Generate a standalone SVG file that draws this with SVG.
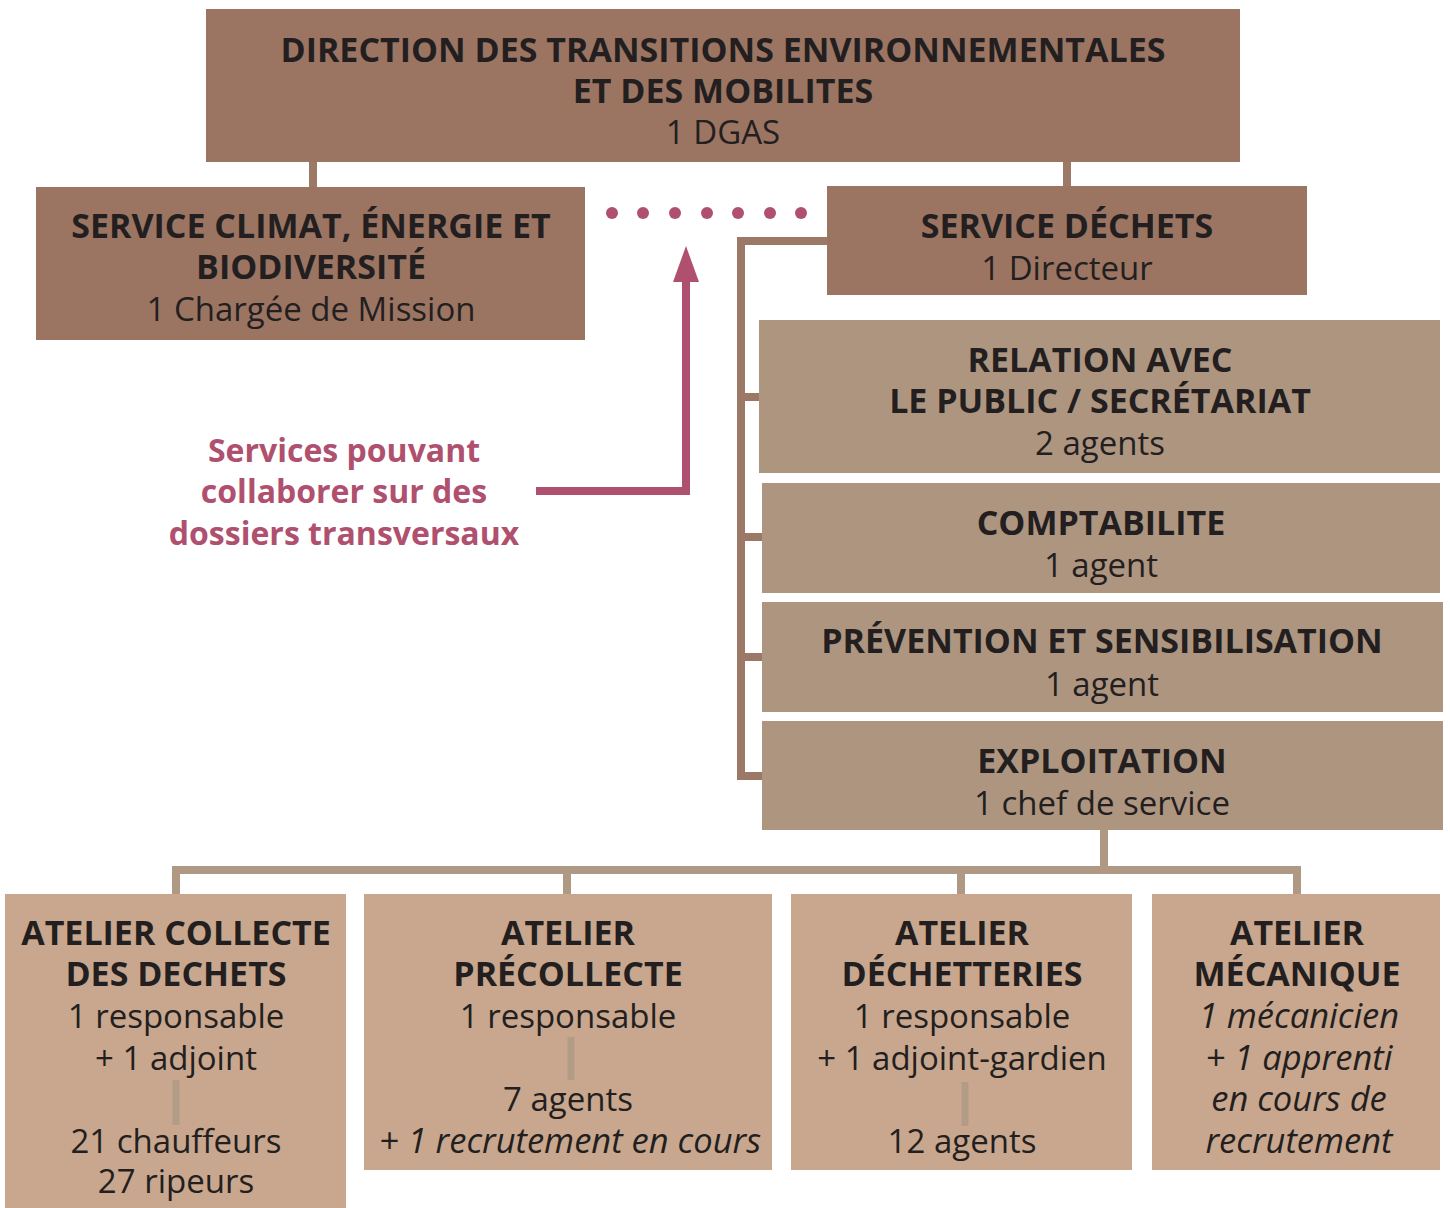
<svg xmlns="http://www.w3.org/2000/svg" width="1450" height="1208" viewBox="0 0 1450 1208">
<style>
.t{font-family:"Open Sans","Noto Sans","DejaVu Sans",sans-serif;font-size:33px;fill:#231f20;text-anchor:middle}
.b{font-weight:bold;font-size:34px}
.i{font-style:italic;font-size:34.5px}
.m{fill:#b0506f;font-weight:bold;font-size:32px}
.c1{fill:none;stroke:#9c7866;stroke-width:8}
.c2{fill:none;stroke:#b09984;stroke-width:8}
.c3{fill:none;stroke:#b39c86;stroke-width:7}
</style>
<rect width="1450" height="1208" fill="#ffffff"/>
<g id="direction">
<rect x="206" y="9" width="1034" height="153" fill="#9b7562"/>
<text class="t b" x="723" y="62">DIRECTION DES TRANSITIONS ENVIRONNEMENTALES</text>
<text class="t b" x="723" y="103">ET DES MOBILITES</text>
<text class="t" x="723" y="144">1 DGAS</text>
</g>
<g id="climat">
<rect x="36" y="187" width="549" height="153" fill="#9b7562"/>
<text class="t b" x="311" y="238">SERVICE CLIMAT, ÉNERGIE ET</text>
<text class="t b" x="311" y="279">BIODIVERSITÉ</text>
<text class="t" x="311" y="321">1 Chargée de Mission</text>
</g>
<g id="dechets">
<rect x="827" y="186" width="480" height="109" fill="#9b7562"/>
<text class="t b" x="1067" y="238">SERVICE DÉCHETS</text>
<text class="t" x="1067" y="280">1 Directeur</text>
</g>
<g id="relation">
<rect x="759" y="320" width="681" height="153" fill="#ae9580"/>
<text class="t b" x="1100" y="372">RELATION AVEC</text>
<text class="t b" x="1100" y="413">LE PUBLIC / SECRÉTARIAT</text>
<text class="t" x="1100" y="455">2 agents</text>
</g>
<g id="comptabilite">
<rect x="762" y="483" width="678" height="110" fill="#ae9580"/>
<text class="t b" x="1101" y="535">COMPTABILITE</text>
<text class="t" x="1101" y="577">1 agent</text>
</g>
<g id="prevention">
<rect x="762" y="602" width="681" height="110" fill="#ae9580"/>
<text class="t b" x="1102" y="653">PRÉVENTION ET SENSIBILISATION</text>
<text class="t" x="1102" y="696">1 agent</text>
</g>
<g id="exploitation">
<rect x="762" y="721" width="681" height="109" fill="#ae9580"/>
<text class="t b" x="1102" y="773">EXPLOITATION</text>
<text class="t" x="1102" y="815">1 chef de service</text>
</g>
<g id="note">
<text class="t m" x="344" y="462">Services pouvant</text>
<text class="t m" x="344" y="503">collaborer sur des</text>
<text class="t m" x="344" y="545">dossiers transversaux</text>
</g>
<g id="collecte">
<rect x="5" y="894" width="341" height="314" fill="#c8a78e"/>
<text class="t b" x="176" y="945">ATELIER COLLECTE</text>
<text class="t b" x="176" y="986">DES DECHETS</text>
<text class="t" x="176" y="1028">1 responsable</text>
<text class="t" x="176" y="1070">+ 1 adjoint</text>
<text class="t" x="176" y="1153">21 chauffeurs</text>
<text class="t" x="176" y="1193">27 ripeurs</text>
</g>
<g id="precollecte">
<rect x="364" y="894" width="408" height="276" fill="#c8a78e"/>
<text class="t b" x="568" y="945">ATELIER</text>
<text class="t b" x="568" y="986">PRÉCOLLECTE</text>
<text class="t" x="568" y="1028">1 responsable</text>
<text class="t" x="568" y="1111">7 agents</text>
<text class="t i" x="570" y="1153">+ 1 recrutement en cours</text>
</g>
<g id="dechetteries">
<rect x="791" y="894" width="341" height="276" fill="#c8a78e"/>
<text class="t b" x="962" y="945">ATELIER</text>
<text class="t b" x="962" y="986">DÉCHETTERIES</text>
<text class="t" x="962" y="1028">1 responsable</text>
<text class="t" x="962" y="1070">+ 1 adjoint-gardien</text>
<text class="t" x="962" y="1153">12 agents</text>
</g>
<g id="mecanique">
<rect x="1152" y="894" width="288" height="276" fill="#c8a78e"/>
<text class="t b" x="1297" y="945">ATELIER</text>
<text class="t b" x="1297" y="986">MÉCANIQUE</text>
<text class="t i" x="1299" y="1028">1 mécanicien</text>
<text class="t i" x="1299" y="1070">+ 1 apprenti</text>
<text class="t i" x="1299" y="1111">en cours de</text>
<text class="t i" x="1299" y="1153">recrutement</text>
</g>
<g id="connectors">
<path class="c1" d="M313,162V187M1067,162V186"/>
<path class="c1" d="M827,241H741V776H762M741,397H759M741,537H762M741,657H762"/>
<path class="c2" d="M1104,830V870M172,870H1301M176,870V894M567,870V894M961,870V894M1297,870V894"/>
<path class="c3" d="M176,1080V1125M571,1037V1080M965,1082V1126"/>
<g fill="#b0506f">
<circle cx="612" cy="213" r="6"/><circle cx="643" cy="213" r="6"/><circle cx="675" cy="213" r="6"/><circle cx="707" cy="213" r="6"/><circle cx="738" cy="213" r="6"/><circle cx="770" cy="213" r="6"/><circle cx="801" cy="213" r="6"/>
</g>
<path d="M536,491H686V280" fill="none" stroke="#b0506f" stroke-width="8"/>
<polygon points="673,282 699,282 686,246" fill="#b0506f"/>
</g>
</svg>
